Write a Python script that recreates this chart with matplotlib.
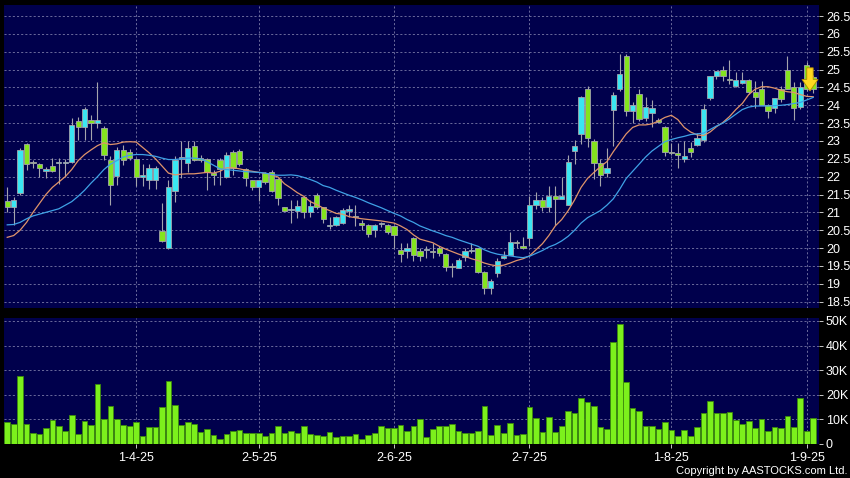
import numpy as np
import matplotlib
matplotlib.use("Agg")
import matplotlib.pyplot as plt
from matplotlib.patches import Polygon

plt.rcParams['font.family'] = ['Liberation Sans', 'DejaVu Sans']

# Daily candles (one row per trading day)
opens = [21.31, 21.16, 21.53, 22.92, 22.41, 22.35, 22.16, 22.30, 22.37, 22.38,
         22.41, 23.57, 23.40, 23.59, 23.51, 23.35, 22.48, 22.01, 22.74, 22.70,
         22.50, 21.99, 21.92, 21.92, 20.49, 20.00, 21.59, 22.50, 22.37, 22.87,
         22.50, 22.49, 22.08, 22.46, 21.99, 22.69, 22.73, 22.22, 21.90, 21.70,
         22.10, 22.14, 21.93, 21.15, 21.06, 21.05, 21.44, 21.00, 21.50, 21.14,
         20.62, 20.64, 20.70, 21.05, 20.89, 20.70, 20.64, 20.51, 20.67, 20.64,
         20.62, 19.95, 19.92, 20.28, 19.92, 19.95, 19.92, 19.99, 19.83, 19.48,
         19.45, 19.76, 19.92, 19.99, 19.34, 18.89, 19.29, 19.71, 19.81, 20.18,
         20.06, 20.27, 21.22, 21.35, 21.16, 21.46, 21.37, 21.22, 22.71, 23.20,
         24.47, 23.00, 22.37, 22.10, 23.86, 24.47, 25.37, 23.84, 24.31, 23.65,
         23.78, 23.58, 23.40, 22.70, 22.65, 22.50, 22.79, 22.89, 23.04, 24.20,
         24.82, 25.00, 24.75, 24.53, 24.63, 24.71, 24.38, 24.45, 24.01, 23.93,
         24.45, 24.98, 24.52, 23.95, 25.13, 24.78]
highs = [21.72, 21.42, 22.80, 22.94, 22.47, 22.38, 22.28, 22.51, 22.51, 22.50,
         23.64, 23.67, 23.96, 23.73, 24.66, 23.42, 22.59, 22.83, 22.90, 22.78,
         22.52, 22.36, 22.36, 22.30, 21.26, 21.90, 22.57, 22.99, 22.99, 23.00,
         22.60, 22.52, 22.20, 22.52, 22.70, 22.75, 22.77, 22.24, 21.92, 21.92,
         22.13, 22.19, 21.95, 21.16, 21.35, 21.35, 21.46, 21.35, 21.54, 21.16,
         20.88, 20.90, 21.12, 21.21, 21.21, 20.79, 20.66, 20.66, 20.72, 20.66,
         20.64, 20.14, 20.14, 20.30, 19.99, 20.06, 20.15, 20.06, 19.85, 19.59,
         19.73, 19.99, 20.13, 20.01, 19.36, 19.13, 19.71, 19.92, 20.45, 20.23,
         20.31, 21.46, 21.56, 21.42, 21.74, 21.74, 21.98, 22.60, 23.03, 24.27,
         24.53, 23.05, 22.49, 22.80, 24.36, 25.45, 25.43, 24.10, 24.47, 24.22,
         24.16, 23.65, 23.42, 22.95, 22.95, 23.00, 22.98, 23.23, 24.03, 24.83,
         24.93, 25.10, 25.27, 24.92, 24.92, 24.75, 24.68, 24.68, 24.03, 24.21,
         24.54, 25.39, 24.64, 24.64, 25.20, 24.85]
lows = [21.00, 20.64, 21.50, 22.20, 22.25, 21.99, 21.95, 22.12, 21.80, 21.99,
        22.38, 23.03, 23.03, 23.03, 23.35, 22.48, 21.21, 21.78, 22.34, 22.47,
        21.75, 21.75, 21.65, 21.65, 20.18, 19.97, 21.30, 21.96, 22.13, 22.45,
        22.40, 21.63, 21.78, 21.77, 21.96, 22.05, 22.30, 21.75, 21.62, 21.33,
        21.80, 21.58, 21.21, 21.03, 20.70, 20.84, 20.84, 20.88, 21.10, 20.70,
        20.53, 20.62, 20.68, 20.88, 20.62, 20.50, 20.32, 20.30, 20.60, 20.40,
        20.00, 19.62, 19.71, 19.64, 19.64, 19.73, 19.73, 19.78, 19.36, 19.19,
        19.45, 19.64, 19.85, 19.30, 18.71, 18.71, 19.20, 19.70, 19.81, 20.01,
        19.97, 20.06, 21.09, 21.04, 21.01, 20.64, 21.37, 21.20, 22.35, 22.91,
        22.82, 21.93, 21.74, 22.00, 22.86, 24.40, 23.70, 23.50, 23.56, 23.55,
        23.40, 23.50, 22.58, 22.60, 22.25, 22.40, 22.56, 22.85, 22.98, 24.15,
        24.75, 24.68, 24.59, 24.50, 24.60, 24.31, 23.93, 24.00, 23.65, 23.79,
        24.08, 24.45, 23.60, 23.90, 24.40, 24.35]
closes = [21.16, 21.35, 22.76, 22.36, 22.37, 22.24, 22.22, 22.16, 22.39, 22.39,
          23.45, 23.40, 23.90, 23.51, 23.59, 22.61, 21.77, 22.75, 22.48, 22.51,
          21.99, 22.05, 22.24, 22.23, 20.19, 21.71, 22.47, 22.55, 22.80, 22.48,
          22.48, 22.14, 22.06, 22.21, 22.60, 22.24, 22.36, 21.96, 21.70, 21.90,
          21.85, 21.61, 21.40, 21.05, 21.07, 21.19, 21.00, 21.19, 21.15, 20.81,
          20.63, 20.88, 21.07, 21.07, 20.87, 20.64, 20.39, 20.64, 20.68, 20.44,
          20.37, 19.82, 19.99, 19.80, 19.78, 19.98, 19.90, 19.85, 19.48, 19.46,
          19.66, 19.92, 19.92, 19.34, 18.89, 19.09, 19.64, 19.79, 20.17, 20.14,
          19.99, 21.22, 21.35, 21.16, 21.46, 21.37, 21.46, 22.42, 22.86, 24.22,
          23.07, 22.37, 22.06, 22.25, 24.29, 24.87, 23.85, 24.01, 23.61, 23.95,
          23.91, 23.53, 22.70, 22.67, 22.60, 22.59, 22.70, 23.07, 23.89, 24.81,
          24.95, 24.82, 24.72, 24.71, 24.72, 24.38, 24.24, 24.01, 23.84, 24.21,
          24.19, 24.45, 23.93, 24.52, 24.47, 24.45]

# moving averages as drawn on the chart
ma_short = [20.30, 20.35, 20.50, 20.72, 21.00, 21.25, 21.50, 21.70, 21.85, 22.00,
            22.20, 22.45, 22.62, 22.75, 22.87, 22.95, 22.90, 22.92, 22.97, 22.98,
            22.97, 22.82, 22.67, 22.50, 22.30, 22.10, 22.05, 22.07, 22.08, 22.08,
            22.10, 22.12, 22.10, 22.15, 22.25, 22.25, 22.22, 22.18, 22.15, 22.12,
            22.10, 22.05, 21.99, 21.80, 21.68, 21.55, 21.45, 21.30, 21.22, 21.12,
            21.05, 20.97, 20.95, 20.88, 20.85, 20.82, 20.80, 20.78, 20.76, 20.73,
            20.70, 20.62, 20.52, 20.37, 20.25, 20.20, 20.15, 20.05, 19.97, 19.90,
            19.83, 19.77, 19.70, 19.65, 19.58, 19.53, 19.50, 19.52, 19.58, 19.65,
            19.70, 19.78, 19.95, 20.12, 20.35, 20.62, 20.80, 21.05, 21.35, 21.70,
            21.95, 22.12, 22.28, 22.42, 22.70, 22.95, 23.20, 23.38, 23.45, 23.45,
            23.48, 23.56, 23.66, 23.72, 23.60, 23.38, 23.25, 23.17, 23.15, 23.25,
            23.40, 23.52, 23.68, 23.88, 24.05, 24.30, 24.45, 24.52, 24.52, 24.48,
            24.42, 24.38, 24.36, 24.30, 24.25, 24.24]
ma_long = [20.65, 20.66, 20.72, 20.82, 20.90, 20.95, 21.00, 21.05, 21.10, 21.20,
           21.30, 21.45, 21.62, 21.82, 22.00, 22.20, 22.35, 22.45, 22.55, 22.60,
           22.62, 22.62, 22.60, 22.57, 22.52, 22.48, 22.48, 22.50, 22.52, 22.52,
           22.50, 22.42, 22.32, 22.22, 22.20, 22.18, 22.16, 22.14, 22.13, 22.12,
           22.10, 22.06, 22.04, 22.04, 22.05, 22.03, 21.98, 21.92, 21.85, 21.75,
           21.70, 21.62, 21.55, 21.48, 21.42, 21.35, 21.27, 21.20, 21.13, 21.05,
           20.97, 20.90, 20.80, 20.72, 20.62, 20.55, 20.48, 20.42, 20.35, 20.30,
           20.23, 20.17, 20.11, 20.05, 19.95, 19.88, 19.83, 19.80, 19.78, 19.75,
           19.73, 19.77, 19.85, 19.93, 20.03, 20.10, 20.20, 20.33, 20.50, 20.70,
           20.85, 20.95, 21.05, 21.20, 21.38, 21.65, 21.95, 22.15, 22.35, 22.55,
           22.72, 22.85, 22.98, 23.04, 23.09, 23.13, 23.18, 23.20, 23.22, 23.32,
           23.42, 23.50, 23.62, 23.75, 23.88, 23.95, 23.98, 23.98, 23.98, 23.99,
           24.00, 24.02, 24.05, 24.08, 24.15, 24.22]

# volume in thousands
volume = [8.8, 8.2, 27.8, 8.2, 4.4, 4.1, 6.4, 9.8, 7.2, 5.2,
          11.8, 4.2, 9.3, 7.9, 24.4, 10.3, 15.6, 10.1, 7.6, 7.2,
          9.1, 3.4, 6.8, 6.9, 15.1, 25.6, 16.0, 7.8, 9.1, 8.2,
          4.9, 6.0, 3.8, 2.0, 4.1, 5.3, 5.7, 4.5, 4.6, 4.6,
          3.1, 4.5, 7.2, 4.6, 5.4, 4.5, 7.2, 4.2, 3.8, 3.3,
          4.9, 3.0, 3.4, 3.3, 4.1, 2.2, 3.8, 4.4, 7.5, 6.3,
          6.7, 7.9, 5.3, 7.3, 10.1, 2.9, 5.9, 7.5, 7.5, 8.3,
          5.4, 4.6, 4.6, 5.3, 15.5, 3.5, 7.6, 4.6, 8.6, 3.5,
          4.1, 15.2, 10.5, 4.9, 11.0, 4.9, 7.3, 13.5, 12.4, 18.5,
          16.9, 15.6, 7.1, 6.0, 41.3, 48.8, 25.0, 14.8, 13.3, 7.4,
          7.4, 6.0, 8.8, 5.6, 3.2, 5.8, 3.2, 6.9, 12.5, 17.4,
          12.5, 12.5, 12.9, 9.6, 8.2, 9.5, 6.5, 10.0, 5.1, 6.9,
          6.7, 11.5, 6.9, 18.7, 5.4, 10.7]

date_labels = ["1-4-25", "2-5-25", "2-6-25", "2-7-25", "1-8-25", "1-9-25"]
date_index = [20, 39, 60, 81, 103, 124]

# sell signal arrow on the last bar
arrow_top = 25.05
arrow_tip = 24.40

BG = "#000000"
PANEL = "#00004c"
GRID = "#7a7aa8"
CYAN = "#3ae6f2"
GREEN = "#84e41e"
WICK = "#a4a4ac"

o = np.array(opens)
h = np.array(highs)
l = np.array(lows)
c = np.array(closes)
x = np.arange(len(o))
up = c >= o

fig = plt.figure(figsize=(8.5, 4.78), dpi=100, facecolor=BG)
ax = fig.add_axes([4 / 850, 1 - 308 / 478, 815 / 850, 303 / 478])
axv = fig.add_axes([4 / 850, 1 - 444 / 478, 815 / 850, 126 / 478])

for a in (ax, axv):
    a.set_facecolor(PANEL)
    for s in a.spines.values():
        s.set_visible(False)
    a.set_xlim(-0.5, len(o) - 0.1)
    a.set_xticks(date_index)
    a.grid(True, color=GRID, linestyle=(0, (2.5, 2.5)), linewidth=0.6)
    a.set_axisbelow(True)
    a.yaxis.tick_right()
    a.tick_params(axis='y', colors='#c8c8c8', labelcolor='white', length=3,
                  width=0.7, labelsize=9, pad=2)

# price panel
ax.set_ylim(18.32, 26.81)
ax.set_yticks(np.arange(18.5, 26.51, 0.5))
ax.set_yticklabels([f"{v:g}" for v in np.arange(18.5, 26.51, 0.5)])
ax.tick_params(axis='x', length=0, labelbottom=False)

ax.vlines(x, l, h, color=WICK, linewidth=0.8, zorder=2)
body_lo = np.minimum(o, c)
body_h = np.maximum(np.abs(c - o), 0.03)
ax.bar(x[up], body_h[up], bottom=body_lo[up], width=0.82, color=CYAN,
       edgecolor=WICK, linewidth=0.6, zorder=3)
ax.bar(x[~up], body_h[~up], bottom=body_lo[~up], width=0.82, color=GREEN,
       edgecolor=WICK, linewidth=0.6, zorder=3)

ax.plot(x, ma_short, color="#e0946a", linewidth=0.9, zorder=4)
ax.plot(x, ma_long, color="#3fa2e6", linewidth=0.9, zorder=4)

ax_x = x[-1] - 0.5
span = arrow_top - arrow_tip
shaft_bot = arrow_tip + span * 0.5
arrow = Polygon([(ax_x - 0.5, arrow_top), (ax_x + 0.5, arrow_top),
                 (ax_x + 0.5, shaft_bot), (ax_x + 1.25, shaft_bot),
                 (ax_x, arrow_tip), (ax_x - 1.25, shaft_bot),
                 (ax_x - 0.5, shaft_bot)], closed=True,
                facecolor="#ffd820", edgecolor="#b08800", linewidth=0.6, zorder=6)
ax.add_patch(arrow)

# volume panel
axv.set_ylim(0, 51.2)
axv.set_yticks([0, 10, 20, 30, 40, 50])
axv.set_yticklabels(["0", "10K", "20K", "30K", "40K", "50K"])
axv.bar(x, volume, width=0.88, color="#7cf01c", edgecolor="#3c8a0c",
        linewidth=0.6, zorder=3)
axv.set_xticklabels(date_labels)
axv.tick_params(axis='x', colors='#c8c8c8', labelcolor='white', length=3,
                width=0.7, labelsize=9, pad=3)

fig.text(848 / 850, 1 - 471 / 478, "Copyright by AASTOCKS.com Ltd.",
         color="white", fontsize=8, ha="right", va="center")

fig.savefig("out.png", dpi=100, facecolor=BG)
